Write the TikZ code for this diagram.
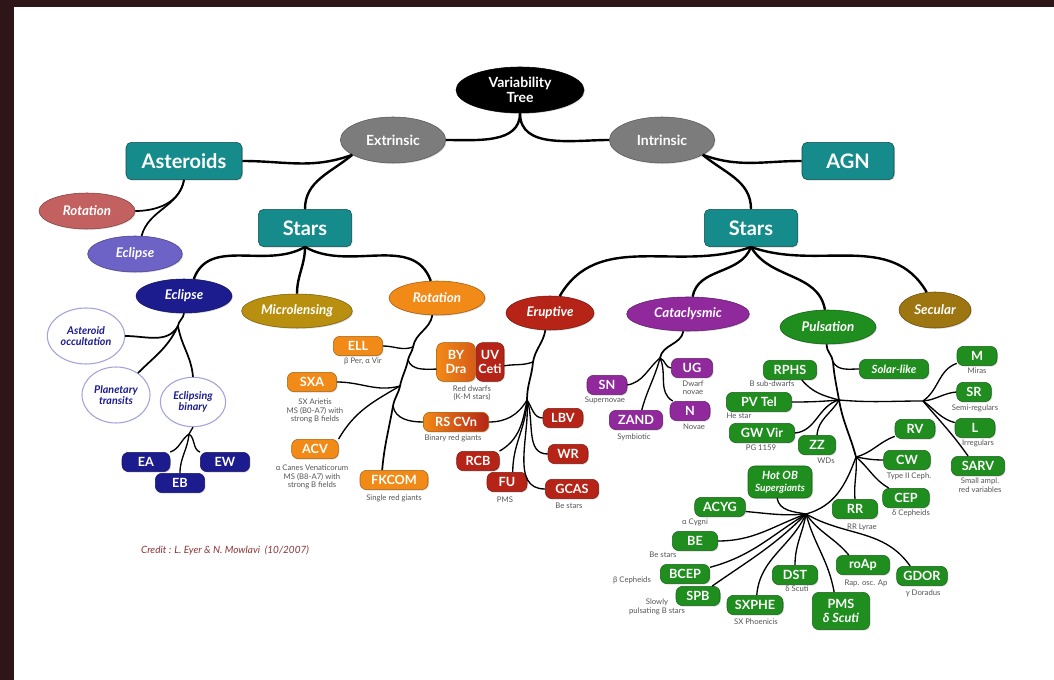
\documentclass[tikz,border=0pt]{standalone}
\usepackage{fontspec}
\setmainfont{Lato}
\usepackage{tikz}
\usetikzlibrary{shapes.geometric, shadows}
\definecolor{colorFrame}{HTML}{2D1518}
\definecolor{colorTeal}{HTML}{168B8B}
\definecolor{colorGrey}{HTML}{7C7C7C}
\definecolor{colorRose}{HTML}{C2615F}
\definecolor{colorLilac}{HTML}{6D62C6}
\definecolor{colorNavy}{HTML}{1C1C8E}
\definecolor{colorGold}{HTML}{B98F10}
\definecolor{colorOrange}{HTML}{F28A17}
\definecolor{colorRed}{HTML}{B52417}
\definecolor{colorPurple}{HTML}{90299C}
\definecolor{colorGreen}{HTML}{1F8E1F}
\definecolor{colorBronze}{HTML}{9D7511}
\definecolor{colorLavender}{HTML}{A3A3DC}
\definecolor{colorNote}{HTML}{555555}
\definecolor{colorCredit}{HTML}{8E3535}
\newcommand{\vtBig}{\fontsize{15}{16}\selectfont\bfseries}
\newcommand{\vtMid}{\fontsize{10.5}{11}\selectfont\bfseries}
\newcommand{\vtFam}{\fontsize{10}{11}\selectfont\bfseries\itshape}
\newcommand{\vtLeaf}{\fontsize{9.5}{10}\selectfont\bfseries}
\newcommand{\vtLeafIt}{\fontsize{8.5}{9}\selectfont\bfseries\itshape}
\newcommand{\vtSub}{\fontsize{8}{8.5}\selectfont\bfseries\itshape}
\newcommand{\vtNote}{\fontsize{5.8}{6.3}\selectfont}
\newcommand{\vtCredit}{\fontsize{7.5}{8}\selectfont\itshape}
\tikzset{
  softshadow/.style={drop shadow={shadow xshift=0.7pt, shadow yshift=-0.7pt, opacity=0.3}},
  topbox/.style={rectangle, rounded corners=4pt, fill=colorTeal, draw=colorTeal!55!black, text=white, font=\vtBig, minimum height=28pt, inner sep=3pt, softshadow},
  branch/.style={ellipse, fill=colorGrey, draw=colorGrey!70!black, text=white, font=\vtMid, align=center, minimum height=34.5pt, inner sep=0pt, softshadow},
  family/.style={ellipse, fill=#1, draw=#1!65!black, text=white, font=\vtFam, minimum height=25.5pt, inner sep=0pt, softshadow},
  subclass/.style={ellipse, fill=white, draw=colorLavender, line width=0.8pt, text=colorNavy, font=\vtSub, align=center, inner sep=0pt},
  leaf/.style={rectangle, rounded corners=5pt, fill=#1, draw=#1!70!black, text=white, font=\vtLeaf, minimum height=14.5pt, inner sep=1.5pt, softshadow},
  note/.style={font=\vtNote, text=colorNote, align=center, inner sep=0pt},
  link/.style={line width=1.8pt},
  stem/.style={line width=1.3pt},
  twig/.style={line width=1pt}
}
\begin{document}
\begin{tikzpicture}[x=0.75pt, y=0.75pt]
\useasboundingbox (0,0) rectangle (1054,-680);
\fill[colorFrame] (0,0) rectangle (1054,-680);
\fill[white] (14,-7) rectangle (1054,-680);

% top of the tree
\node[branch, fill=black, draw=black, minimum width=96pt] (root) at (520,-90) {Variability\\Tree};
\node[branch, minimum width=79pt] (ext) at (393,-140) {Extrinsic};
\node[branch, minimum width=79pt] (intr) at (662,-140) {Intrinsic};
\node[topbox, minimum width=87pt] (ast) at (184,-161) {Asteroids};
\node[topbox, minimum width=69pt] (agn) at (848,-161) {AGN};
\node[topbox, minimum width=70pt] (starsL) at (305,-228) {Stars};
\node[topbox, minimum width=70pt] (starsR) at (751,-228) {Stars};

\node[family=colorRose, minimum width=72pt, minimum height=27pt] (rotA) at (87,-211) {Rotation};
\node[family=colorLilac, minimum width=71pt, minimum height=27pt] (eclA) at (135,-254) {Eclipse};

\node[family=colorNavy, minimum width=72pt] (eclS) at (184,-296) {Eclipse};
\node[family=colorGold, minimum width=83pt] (micro) at (297,-311) {Microlensing};
\node[family=colorOrange, minimum width=72pt] (rotS) at (437,-298) {Rotation};
\node[family=colorRed, minimum width=66pt] (erupt) at (550,-313) {Eruptive};
\node[family=colorPurple, minimum width=92pt] (catac) at (688,-314) {Cataclysmic};
\node[family=colorGreen, minimum width=72pt] (puls) at (828,-327) {Pulsation};
\node[family=colorBronze, minimum width=54pt, minimum height=27pt] (secul) at (935,-310) {Secular};

% eclipse
\node[subclass, minimum width=58pt, minimum height=42pt] (aocc) at (86,-336) {Asteroid\\occultation};
\node[subclass, minimum width=51pt, minimum height=42pt] (ptra) at (116,-395) {Planetary\\transits};
\node[subclass, minimum width=49pt, minimum height=37pt] (ebin) at (193,-402) {Eclipsing\\binary};
\node[leaf=colorNavy, minimum width=36pt] (ea) at (146,-462) {EA};
\node[leaf=colorNavy, minimum width=37pt] (ew) at (225,-462) {EW};
\node[leaf=colorNavy, minimum width=37pt] (eb) at (180,-483) {EB};

% rotation
\node[leaf=colorOrange, minimum width=37pt] (ell) at (358,-346) {ELL};
\node[leaf=colorOrange, minimum width=37pt] (sxa) at (312,-382) {SXA};
\node[leaf=colorOrange, minimum width=35pt] (acv) at (315,-449) {ACV};
\node[leaf=colorOrange, minimum width=51pt] (fkcom) at (394,-480) {FKCOM};
\node[leaf=colorRed, minimum width=21pt, minimum height=29pt, inner xsep=1pt, align=center] (uvceti) at (490,-362) {UV\\Ceti};
\node[leaf=colorOrange, left color=colorOrange, right color=colorOrange!55!colorRed, minimum width=29pt, minimum height=29pt, align=center] (bydra) at (456,-362) {BY\\Dra};
\node[leaf=colorOrange, left color=colorOrange, right color=colorRed, minimum width=49pt] (rscvn) at (456,-422) {RS CVn};
\node[note] (ellNote) at (363,-361) {β Per, α Vir};
\node[note] (sxaNote) at (315,-411) {SX Arietis\\MS (B0-A7) with\\strong B fields};
\node[note] (acvNote) at (312,-477) {α Canes Venaticorum\\MS (B8-A7) with\\strong B fields};
\node[note] (fkcomNote) at (394,-498) {Single red giants};
\node[note] (bydraNote) at (472,-393) {Red dwarfs\\(K-M stars)};
\node[note] (rscvnNote) at (453,-438) {Binary red giants};

% eruptive
\node[leaf=colorRed, minimum width=30pt] (lbv) at (563,-418) {LBV};
\node[leaf=colorRed, minimum width=30pt] (wr) at (568,-454) {WR};
\node[leaf=colorRed, minimum width=40pt] (gcas) at (572,-489) {GCAS};
\node[leaf=colorRed, minimum width=32pt] (rcb) at (478,-461) {RCB};
\node[leaf=colorRed, minimum width=30pt] (fu) at (507,-482) {FU};
\node[note] (gcasNote) at (569,-506) {Be stars};
\node[note] (fuNote) at (505,-500) {PMS};

% cataclysmic
\node[leaf=colorPurple, minimum width=30pt] (sn) at (607,-385) {SN};
\node[leaf=colorPurple, minimum width=40pt] (zand) at (636,-420) {ZAND};
\node[leaf=colorPurple, minimum width=31pt] (ug) at (692,-368) {UG};
\node[leaf=colorPurple, minimum width=30pt] (nov) at (690,-411) {N};
\node[note] (snNote) at (605,-400) {Supernovae};
\node[note] (zandNote) at (634,-437) {Symbiotic};
\node[note] (ugNote) at (693,-388) {Dwarf\\novae};
\node[note] (novNote) at (694,-427) {Novae};

% pulsation
\node[leaf=colorGreen, minimum width=40pt] (rphs) at (790,-370) {RPHS};
\node[leaf=colorGreen, minimum width=49pt] (pvtel) at (759,-402) {PV Tel};
\node[leaf=colorGreen, minimum width=49pt] (gwvir) at (762,-433) {GW Vir};
\node[leaf=colorGreen, minimum width=28pt] (zz) at (817,-445) {ZZ};
\node[leaf=colorGreen, minimum width=52pt, font=\vtLeafIt] (solar) at (894,-369) {Solar-like};
\node[leaf=colorGreen, minimum width=30pt] (mira) at (977,-356) {M};
\node[leaf=colorGreen, minimum width=26pt] (semi) at (974,-392) {SR};
\node[leaf=colorGreen, minimum width=30pt] (irr) at (975,-428) {L};
\node[leaf=colorGreen, minimum width=40pt] (sarv) at (978,-466) {SARV};
\node[leaf=colorGreen, minimum width=30pt] (rv) at (915,-429) {RV};
\node[leaf=colorGreen, minimum width=35pt] (cw) at (907,-460) {CW};
\node[leaf=colorGreen, minimum width=35pt] (cep) at (906,-498) {CEP};
\node[leaf=colorGreen, minimum width=34pt] (rr) at (855,-509) {RR};
\node[leaf=colorGreen, minimum width=48pt, minimum height=24pt, font=\vtLeafIt, align=center] (hotob) at (780,-482) {Hot OB\\{\fontsize{7.5}{8}\selectfont Supergiants}};
\node[leaf=colorGreen, minimum width=38pt] (acyg) at (720,-507) {ACYG};
\node[leaf=colorGreen, minimum width=34pt] (be) at (695,-541) {BE};
\node[leaf=colorGreen, minimum width=37pt] (bcep) at (685,-574) {BCEP};
\node[leaf=colorGreen, minimum width=33pt] (spb) at (698,-596) {SPB};
\node[leaf=colorGreen, minimum width=42pt] (sxphe) at (755,-605) {SXPHE};
\node[leaf=colorGreen, minimum width=34pt] (dst) at (795,-575) {DST};
\node[leaf=colorGreen, minimum width=43pt, minimum height=28pt, align=center] (pms) at (841,-611) {PMS\\{\itshape δ Scuti}};
\node[leaf=colorGreen, minimum width=40pt] (roap) at (863,-565) {roAp};
\node[leaf=colorGreen, minimum width=38pt] (gdor) at (922,-576) {GDOR};
\node[note] (rphsNote) at (772,-384) {B sub-dwarfs};
\node[note] (pvtelNote) at (739,-416) {He star};
\node[note] (gwvirNote) at (761,-448) {PG 1159};
\node[note] (zzNote) at (826,-461) {WDs};
\node[note] (miraNote) at (977,-371) {Miras};
\node[note] (semiNote) at (975,-408) {Semi-regulars};
\node[note] (irrNote) at (978,-443) {Irregulars};
\node[note] (sarvNote) at (980,-485) {Small ampl.\\red variables};
\node[note] (cwNote) at (909,-476) {Type II Ceph.};
\node[note] (cepNote) at (911,-513) {δ Cepheids};
\node[note] (rrNote) at (862,-527) {RR Lyrae};
\node[note] (acygNote) at (695,-522) {α Cygni};
\node[note] (beNote) at (663,-555) {Be stars};
\node[note] (bcepNote) at (632,-580) {β Cepheids};
\node[note] (spbNote) at (657,-607) {Slowly\\pulsating B stars};
\node[note] (sxpheNote) at (756,-622) {SX Phoenicis};
\node[note] (dstNote) at (797,-589) {δ Scuti};
\node[note] (roapNote) at (866,-583) {Rap. osc. Ap};
\node[note] (gdorNote) at (923,-593) {γ Doradus};

\node[font=\vtCredit, text=colorCredit] (credit) at (225,-550) {Credit : L. Eyer \& N. Mowlavi~~(10/2007)};

% junctions
\coordinate (jecl) at (178,-326);
\coordinate (jeb) at (189,-434);
\coordinate (jr1) at (413,-347);
\coordinate (jr2) at (408,-360);
\coordinate (jr3) at (400,-386);
\coordinate (jr4) at (393,-406);
\coordinate (je1) at (533,-362);
\coordinate (je2) at (527,-400);
\coordinate (jc) at (660,-358);
\coordinate (jp0) at (833,-362);
\coordinate (jp1) at (839,-400);
\coordinate (jp3) at (856,-457);
\coordinate (jlp) at (923,-401);
\coordinate (jhub) at (806,-514);

% upper links
\draw[link] (root.south) to[out=-90,in=0] (ext.east);
\draw[link] (root.south) to[out=-90,in=180] (intr.west);
\draw[link] (ext.200) to[out=200,in=0] (ast.east);
\draw[link] (ext.200) to[out=220,in=90] (starsL.north);
\draw[link] (intr.-20) to[out=-20,in=180] (agn.west);
\draw[link] (intr.-20) to[out=-40,in=90] (starsR.north);
\draw[stem] (ast.south) to[out=-100,in=0] (rotA.east);
\draw[stem] (ast.south) to[out=-100,in=75] (eclA.70);
\draw[link] (starsL.south) to[out=-150,in=70] (eclS.60);
\draw[link] (starsL.south) to[out=-90,in=90] (micro.north);
\draw[link] (starsL.south) to[out=-30,in=110] (rotS.110);
\draw[link] (starsR.south) to[out=-160,in=60] (erupt.60);
\draw[link] (starsR.south) to[out=-110,in=80] (catac.75);
\draw[link] (starsR.south) to[out=-60,in=100] (puls.100);
\draw[link] (starsR.south) to[out=-20,in=120] (secul.115);

% eclipse links
\draw[stem] (eclS.south) to[out=-95,in=85] (jecl);
\draw[stem] (jecl) to[out=240,in=0] (aocc.east);
\draw[stem] (jecl) to[out=245,in=45] (ptra.45);
\draw[stem] (jecl) to[out=-80,in=95] (ebin.north);
\draw[twig] (ebin.south) -- (jeb);
\draw[twig] (jeb) to[out=215,in=20] (ea.north east);
\draw[twig] (jeb) to[out=-35,in=160] (ew.north west);
\draw[twig] (jeb) to[out=-95,in=90] (eb.north);

% rotation links
\draw[stem] (rotS.255) to[out=-100,in=80] (jr1) to[out=-100,in=78] (jr2) to[out=-102,in=78] (jr3) to[out=-102,in=80] (jr4) to[out=-100,in=85] (fkcom.140);
\draw[twig] (jr1) to[out=-160,in=0] (ell.east);
\draw[twig] (jr2) to[out=-70,in=180] (bydra.-160);
\draw[twig] (jr3) to[out=-165,in=0] (sxa.east);
\draw[twig] (jr3) to[out=-150,in=60] (acv.north east);
\draw[twig] (jr4) to[out=-80,in=180] (rscvn.west);

% eruptive links
\draw[stem] (erupt.255) to[out=-100,in=80] (je1) to[out=-95,in=90] (je2);
\draw[twig] (je1) to[out=-160,in=10] (uvceti.-15);
\draw[twig] (je2) to[out=-120,in=0] (rscvn.east);
\draw[twig] (je2) to[out=-55,in=180] (lbv.west);
\draw[twig] (je2) to[out=-70,in=180] (wr.west);
\draw[twig] (je2) to[out=-85,in=180] (gcas.west);
\draw[twig] (je2) to[out=-100,in=30] (rcb.north east);
\draw[twig] (je2) to[out=-92,in=90] (fu.60);

% cataclysmic links
\draw[stem] (catac.255) to[out=-100,in=80] (jc);
\draw[twig] (jc) to[out=-140,in=10] (sn.east);
\draw[twig] (jc) to[out=-105,in=75] (zand.60);
\draw[twig] (jc) to[out=-20,in=180] (ug.west);
\draw[twig] (jc) to[out=-65,in=150] (nov.150);

% pulsation links
\draw[stem] (puls.265) to[out=-92,in=95] (jp0) to[out=-85,in=100] (jp1) to[out=-80,in=105] (jp3);
\draw[twig] (jp0) to[out=-60,in=180] (solar.west);
\draw[twig] (jp1) to[out=165,in=-50] (rphs.-40);
\draw[twig] (jp1) to[out=185,in=0] (pvtel.east);
\draw[twig] (jp1) to[out=195,in=5] (gwvir.east);
\draw[twig] (jp1) to[out=-120,in=85] (zz.north);
\draw[twig] (jp1) to[out=-5,in=180] (jlp);
\draw[twig] (jlp) to[out=35,in=200] (mira.200);
\draw[twig] (jlp) to[out=5,in=185] (semi.west);
\draw[twig] (jlp) to[out=-35,in=165] (irr.165);
\draw[twig] (jlp) to[out=-50,in=125] (sarv.135);
\draw[twig] (jp3) to[out=15,in=200] (rv.200);
\draw[twig] (jp3) to[out=-10,in=180] (cw.west);
\draw[twig] (jp3) to[out=-40,in=150] (cep.150);
\draw[twig] (jp3) to[out=-85,in=95] (rr.north);
\draw[twig] (jp3) to[out=-110,in=15] (jhub);
\draw[twig] (jhub) to[out=170,in=-80] (hotob.260);
\draw[twig] (jhub) to[out=185,in=-5] (acyg.-10);
\draw[twig] (jhub) to[out=200,in=0] (be.east);
\draw[twig] (jhub) to[out=212,in=15] (bcep.15);
\draw[twig] (jhub) to[out=225,in=35] (spb.35);
\draw[twig] (jhub) to[out=245,in=85] (sxphe.80);
\draw[twig] (jhub) to[out=-100,in=90] (dst.north);
\draw[twig] (jhub) to[out=-75,in=100] (pms.110);
\draw[twig] (jhub) to[out=-55,in=130] (roap.145);
\draw[twig] (jhub) to[out=-30,in=125] (gdor.140);
\end{tikzpicture}
\end{document}
